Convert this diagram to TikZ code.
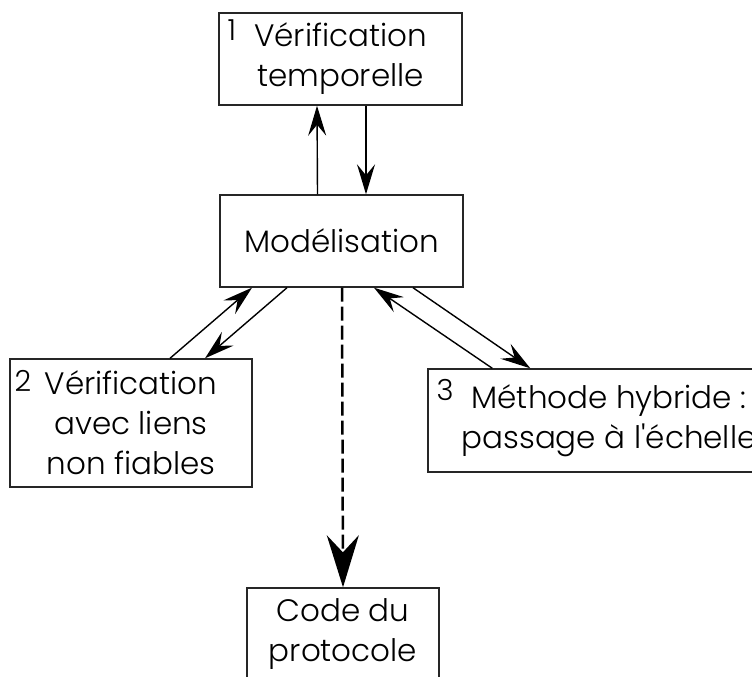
\documentclass[tikz,border=0pt]{standalone}
\usepackage{fontspec}
\setmainfont{Poppins Light}[Ligatures=TeXOff]
\usetikzlibrary{arrows.meta,positioning}

\begin{document}
\begin{tikzpicture}[x=1pt,y=-1pt,>={Stealth[length=30pt,width=18pt,inset=11pt]},
  box/.style={draw=black!85,line width=1.4pt,align=center,inner sep=0pt,font=\fontsize{31}{40}\selectfont},
  num/.style={anchor=north west,inner sep=0pt,font=\fontsize{29}{29}\selectfont},
  link/.style={->,line width=1.4pt},
  code link/.style={->,line width=2.5pt,dash pattern=on 14pt off 5pt,>={Stealth[length=52pt,width=32pt,inset=17pt]}}]
\useasboundingbox (0,0) rectangle (752,677);
% boxes
\node[box,minimum width=243pt,minimum height=92pt] (verif) at (340.5,59) {Vérification\\temporelle};
\node[box,minimum width=243pt,minimum height=92pt] (model) at (341.5,241) {Modélisation};
\node[box,minimum width=242pt,minimum height=128pt] (fiab) at (131,423) {Vérification\\avec liens\\non fiables};
\node[box,minimum width=362pt,minimum height=103pt] (hybr) at (609,420.5) {Méthode hybride :\\passage à l'échelle};
\node[box,minimum width=192pt,minimum height=92pt] (code) at (343,634) {Code du\\protocole};
% numbers
\node[num] (n1) at ([xshift=9pt,yshift=-7pt]verif.north west) {1};
\node[num] (n2) at ([xshift=5pt,yshift=-12pt]fiab.north west) {2};
\node[num] (n3) at ([xshift=9pt,yshift=-11pt]hybr.north west) {3};
% links
\draw[link] ([xshift=-24pt]model.north) -- ([xshift=-23.5pt]verif.south);
\draw[link] ([xshift=25.5pt]verif.south) -- ([xshift=24.5pt]model.north);
\draw[link] ([xshift=39pt]fiab.north) -- ([xshift=-89.5pt]model.south);
\draw[link] ([xshift=-54.5pt]model.south) -- ([xshift=74pt]fiab.north);
\draw[link] ([xshift=65pt]hybr.north west) -- ([xshift=32.5pt]model.south);
\draw[link] ([xshift=71.5pt]model.south) -- ([xshift=103pt]hybr.north west);
\draw[code link] ([xshift=0.5pt]model.south) -- (code.north);
\end{tikzpicture}
\end{document}
